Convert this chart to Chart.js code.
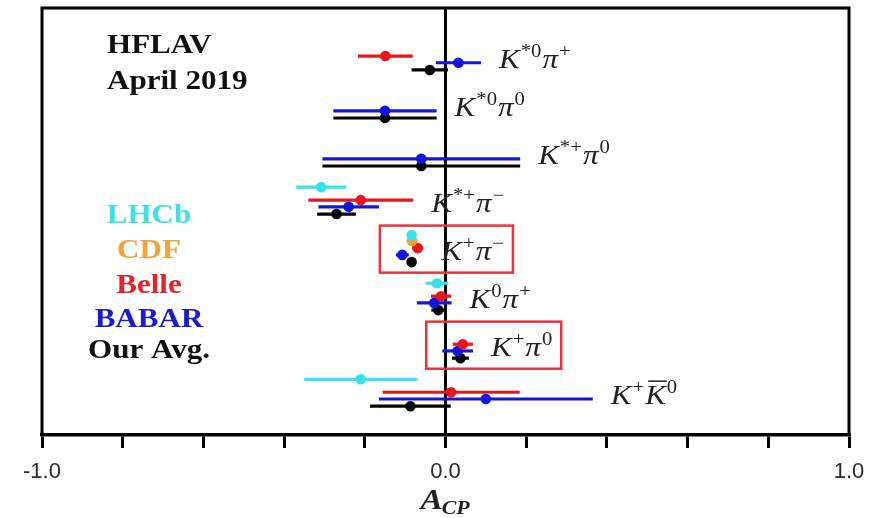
<!DOCTYPE html>
<html>
<head>
<meta charset="utf-8">
<script src="https://cdn.jsdelivr.net/npm/chart.js@4.4.1/dist/chart.umd.min.js"></script>
<style>
  html, body { margin: 0; padding: 0; background: #fff; }
  #wrap { width: 880px; height: 518px; }
</style>
</head>
<body>
<div id="wrap"><canvas id="acp-chart" width="880" height="518"></canvas></div>
<script>
// Decay modes, top to bottom (label pieces: italic letters, upright superscripts)
const modeLabels = [
  [{ t: 'K' }, { t: '*0', sup: true }, { t: 'π' }, { t: '+', sup: true }],
  [{ t: 'K' }, { t: '*0', sup: true }, { t: 'π' }, { t: '0', sup: true }],
  [{ t: 'K' }, { t: '*+', sup: true }, { t: 'π' }, { t: '0', sup: true }],
  [{ t: 'K' }, { t: '*+', sup: true }, { t: 'π' }, { t: '−', sup: true }],
  [{ t: 'K' }, { t: '+', sup: true }, { t: 'π' }, { t: '−', sup: true }],
  [{ t: 'K' }, { t: '0', sup: true }, { t: 'π' }, { t: '+', sup: true }],
  [{ t: 'K' }, { t: '+', sup: true }, { t: 'π' }, { t: '0', sup: true }],
  [{ t: 'K' }, { t: '+', sup: true }, { t: 'K', bar: true }, { t: '0', sup: true }],
];

// A_CP central values and errors per experiment (null = no measurement)
const lhcbValues = [null, null, null, -0.308, -0.084, -0.021, null, -0.21];
const lhcbErrors = [null, null, null, 0.062, 0.004, 0.028, null, 0.14];
const cdfValues = [null, null, null, null, -0.083, null, null, null];
const cdfErrors = [null, null, null, null, 0.013, null, null, null];
const belleValues = [-0.149, null, null, -0.21, -0.069, -0.011, 0.043, 0.014];
const belleErrors = [0.068, null, null, 0.13, 0.014, 0.025, 0.025, 0.17];
const babarValues = [0.032, -0.15, -0.06, -0.24, -0.107, -0.028, 0.030, 0.10];
const babarErrors = [0.056, 0.128, 0.245, 0.075, 0.016, 0.043, 0.038, 0.265];
const avgValues = [-0.039, -0.15, -0.06, -0.27, -0.084, -0.018, 0.037, -0.087];
const avgErrors = [0.045, 0.128, 0.245, 0.048, 0.004, 0.017, 0.021, 0.10];

// Modes framed with a red box
const highlighted = [4, 6];

const experiments = [
  { name: 'LHCb', color: '#36e2ec', text: '#3ee0e8', values: lhcbValues, errors: lhcbErrors, offset: -0.56 },
  { name: 'CDF', color: '#f0a12e', text: '#f2a33a', values: cdfValues, errors: cdfErrors, offset: -0.44 },
  { name: 'Belle', color: '#e8161c', text: '#e3222a', values: belleValues, errors: belleErrors, offset: -0.29 },
  { name: 'BABAR', color: '#1414dc', text: '#1a1ad0', values: babarValues, errors: babarErrors, offset: -0.15 },
  { name: 'Our Avg.', color: '#000000', text: '#111111', values: avgValues, errors: avgErrors, offset: 0 },
];

const STRETCH = 1.15;
const SERIF = '"Liberation Serif", "DejaVu Serif", serif';

// Build error bars (two-point segments) and central dots
const datasets = [];
experiments.forEach((exp) => {
  const dots = [];
  exp.values.forEach((v, i) => {
    if (v === null) return;
    const e = exp.errors[i];
    const y = i + exp.offset;
    datasets.push({
      data: [{ x: v - e, y }, { x: v + e, y }],
      showLine: true,
      borderColor: exp.color,
      borderWidth: 3.2,
      pointRadius: 0,
      order: 1,
    });
    dots.push({ x: v, y });
  });
  datasets.push({
    data: dots,
    pointRadius: 5.3,
    pointBackgroundColor: exp.color,
    pointBorderWidth: 0,
    order: 0,
  });
});

function drawText(ctx, text, x, y, font, color, align) {
  ctx.save();
  ctx.font = font;
  ctx.fillStyle = color;
  const w = ctx.measureText(text).width * STRETCH;
  const x0 = align === 'center' ? x - w / 2 : x;
  ctx.translate(x0, y);
  ctx.scale(STRETCH, 1);
  ctx.textAlign = 'left';
  ctx.textBaseline = 'alphabetic';
  ctx.fillText(text, 0, 0);
  ctx.restore();
  return w;
}

// Draws a mode label like K*0 pi+ and returns its width
function drawMath(ctx, parts, x, y) {
  let cx = x;
  parts.forEach((p) => {
    if (p.sup) {
      cx += drawText(ctx, p.t, cx + 1, y - 11, `18px ${SERIF}`, '#222', 'left') + 2;
    } else {
      const w = drawText(ctx, p.t, cx, y, `italic 27px ${SERIF}`, '#222', 'left');
      if (p.bar) {
        ctx.save();
        ctx.strokeStyle = '#222';
        ctx.lineWidth = 1.5;
        ctx.beginPath();
        ctx.moveTo(cx + 3, y - 23);
        ctx.lineTo(cx + w + 1, y - 23);
        ctx.stroke();
        ctx.restore();
      }
      cx += w;
    }
  });
  return cx - x;
}

const decorPlugin = {
  id: 'decor',
  afterDatasetsDraw(chart) {
    const { ctx, chartArea } = chart;
    const xs = chart.scales.x;
    const ys = chart.scales.y;

    // Frame on top, left and right
    ctx.save();
    ctx.strokeStyle = '#000';
    ctx.lineWidth = 3;
    ctx.beginPath();
    ctx.moveTo(chartArea.left, chartArea.bottom);
    ctx.lineTo(chartArea.left, chartArea.top);
    ctx.lineTo(chartArea.right, chartArea.top);
    ctx.lineTo(chartArea.right, chartArea.bottom);
    ctx.stroke();
    ctx.restore();

    // Mode labels to the right of each group, red boxes on highlighted ones
    modeLabels.forEach((parts, i) => {
      let hi = -Infinity;
      let lo = Infinity;
      experiments.forEach((exp) => {
        if (exp.values[i] === null) return;
        hi = Math.max(hi, exp.values[i] + exp.errors[i]);
        lo = Math.min(lo, exp.values[i] - exp.errors[i]);
      });
      const lx = xs.getPixelForValue(hi) + 18;
      const w = drawMath(ctx, parts, lx, ys.getPixelForValue(i) - 2);
      if (highlighted.includes(i)) {
        ctx.save();
        ctx.strokeStyle = '#e8343a';
        ctx.lineWidth = 2.5;
        const left = xs.getPixelForValue(lo) - 16;
        const top = ys.getPixelForValue(i - 0.76);
        const bottom = ys.getPixelForValue(i + 0.22);
        ctx.strokeRect(left, top, lx + w + 8 - left, bottom - top);
        ctx.restore();
      }
    });

    // Title block and experiment key
    drawText(ctx, 'HFLAV', 107, 53, `bold 27px ${SERIF}`, '#111', 'left');
    drawText(ctx, 'April 2019', 107, 89, `bold 27px ${SERIF}`, '#111', 'left');
    const keyBaselines = [223, 258, 293, 327, 358];
    experiments.forEach((exp, k) => {
      drawText(ctx, exp.name, 149, keyBaselines[k], `bold 27px ${SERIF}`, exp.text, 'center');
    });

    // Axis title A_CP
    const ax = xs.getPixelForValue(0);
    ctx.save();
    ctx.font = `bold italic 29px ${SERIF}`;
    const aw = ctx.measureText('A').width * STRETCH;
    ctx.font = `bold italic 19px ${SERIF}`;
    const sw = ctx.measureText('CP').width * STRETCH;
    ctx.restore();
    const ax0 = ax - (aw + sw) / 2;
    drawText(ctx, 'A', ax0, 509, `bold italic 29px ${SERIF}`, '#222', 'left');
    drawText(ctx, 'CP', ax0 + aw - 1, 514, `bold italic 19px ${SERIF}`, '#222', 'left');
  },
};

const ctx = document.getElementById('acp-chart');
// eslint-disable-next-line no-new
new Chart(ctx, {
  type: 'scatter',
  data: { datasets },
  options: {
    responsive: false,
    animation: false,
    devicePixelRatio: 1,
    layout: { padding: { left: 42, right: 31, top: 8, bottom: 0 } },
    plugins: {
      legend: { display: false },
      tooltip: { enabled: false },
    },
    scales: {
      x: {
        type: 'linear',
        min: -1,
        max: 1,
        afterFit: (scale) => { scale.height = 83; },
        ticks: {
          stepSize: 0.2,
          autoSkip: false,
          maxRotation: 0,
          padding: 11,
          color: '#2a2a2a',
          font: { family: '"Liberation Sans", Arial, sans-serif', size: 22 },
          callback: (v) => (Math.abs(v - Math.round(v)) < 1e-6 ? (Math.round(v) === 0 ? '0.0' : Math.round(v).toFixed(1)) : ''),
        },
        grid: {
          color: (c) => (c.tick && Math.abs(c.tick.value) < 1e-6 ? '#000' : 'rgba(0,0,0,0)'),
          lineWidth: 3,
          tickColor: '#000',
          tickWidth: 3,
          tickLength: 13,
        },
        border: { display: true, color: '#000', width: 3.5 },
      },
      y: {
        type: 'linear',
        min: -1.29,
        max: 7.6,
        reverse: true,
        display: false,
      },
    },
  },
  plugins: [decorPlugin],
});
</script>
</body>
</html>
